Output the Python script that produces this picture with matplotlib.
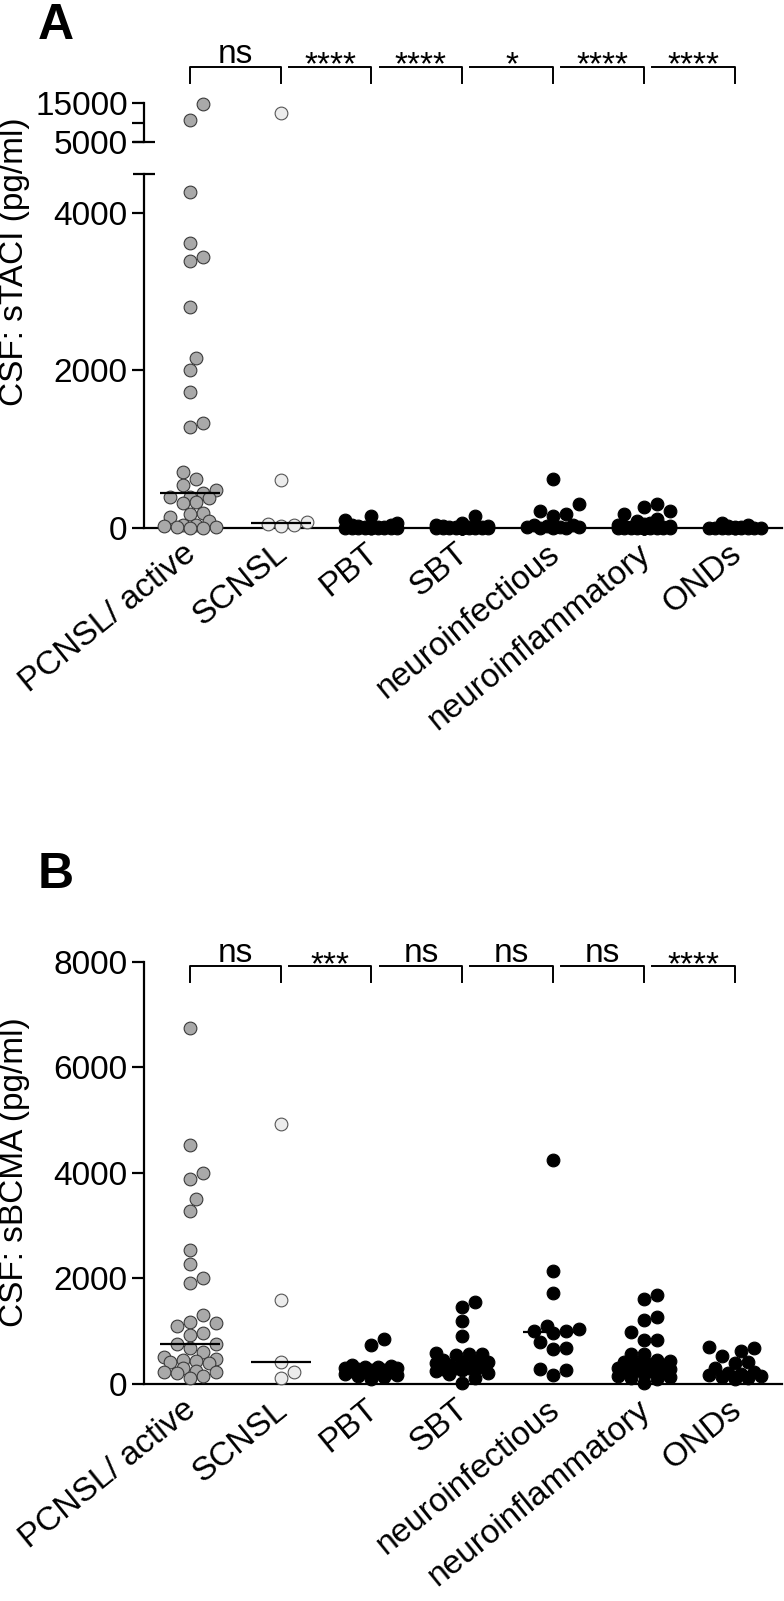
import numpy as np
import matplotlib
matplotlib.use('Agg')
import matplotlib.pyplot as plt
from matplotlib import transforms

plt.rcParams['font.family'] = ['Liberation Sans', 'DejaVu Sans']

grupos = ['PCNSL/ active', 'SCNSL', 'PBT', 'SBT', 'neuroinfectious',
          'neuroinflammatory', 'ONDs']

# CSF sTACI (pg/ml)
taci_pcnsl = [14740, 10720, 4270, 3618, 3440, 3394, 2805, 2153, 2000, 1721,
              1327, 1276, 704, 615, 543, 479, 445, 394, 386, 373, 330, 310,
              190, 174, 140, 85, 40, 30, 20, 10, 5, 0, 0]
taci_scnsl = [12590, 606, 69, 45, 30, 20]
taci_pbt = [150, 100, 65, 40, 30, 20, 12, 10, 6, 5, 0, 0, 0, 0, 0, 0, 0, 0, 0, 0]
taci_sbt = [150, 65, 40, 25, 20, 15, 10, 8, 5, 5, 3, 0, 0, 0, 0, 0, 0, 0, 0, 0,
            0, 0, 0, 0, 0]
taci_infec = [615, 297, 210, 170, 150, 40, 30, 20, 15, 10, 5, 0, 0, 0]
taci_inflam = [305, 260, 210, 170, 110, 90, 60, 45, 30, 25, 20, 15, 10, 8, 5,
               5, 3, 0, 0, 0, 0, 0, 0, 0, 0, 0, 0, 0, 0, 0]
taci_onds = [60, 40, 20, 10, 5, 0, 0, 0, 0, 0, 0, 0, 0, 0, 0]

# CSF sBCMA (pg/ml)
bcma_pcnsl = [6741, 4522, 4005, 3885, 3506, 3279, 2541, 2265, 2000, 1911,
              1300, 1170, 1150, 1095, 960, 920, 765, 760, 680, 600, 520, 470,
              450, 430, 420, 400, 300, 250, 230, 220, 200, 150, 118]
bcma_scnsl = [4919, 1595, 410, 221, 108]
bcma_pbt = [851, 743, 360, 345, 330, 318, 305, 296, 284, 270, 262, 250, 236,
            224, 210, 190, 172, 150, 128, 96]
bcma_sbt = [1551, 1457, 1185, 901, 585, 570, 560, 545, 455, 430, 418, 410,
            405, 352, 320, 305, 300, 290, 280, 262, 240, 210, 180, 120, 25]
bcma_infec = [4238, 2144, 1729, 1097, 1035, 1010, 1003, 959, 800, 675, 660,
              284, 270, 174]
bcma_inflam = [1689, 1607, 1260, 1216, 984, 825, 825, 575, 565, 452, 430, 412,
               395, 372, 362, 358, 341, 322, 300, 284, 262, 241, 220, 205, 182,
               160, 140, 118, 90, 20]
bcma_onds = [700, 685, 630, 535, 420, 405, 300, 222, 210, 190, 175, 160, 140,
             118, 95]

taci = [taci_pcnsl, taci_scnsl, taci_pbt, taci_sbt, taci_infec, taci_inflam, taci_onds]
bcma = [bcma_pcnsl, bcma_scnsl, bcma_pbt, bcma_sbt, bcma_infec, bcma_inflam, bcma_onds]

taci_sig = ['ns', '****', '****', '*', '****', '****']
bcma_sig = ['ns', '***', 'ns', 'ns', 'ns', '****']

relleno = ['#a9a9a9', '#ececec', 'black', 'black', 'black', 'black', 'black']
borde = ['#3a3a3a', '#555555', 'black', 'black', 'black', 'black', 'black']

W, H = 784, 1601
FS = 24
fig = plt.figure(figsize=(W / 100, H / 100), dpi=100)


def caja(izq, arriba, der, abajo):
    return [izq / W, 1 - abajo / H, (der - izq) / W, (abajo - arriba) / H]


def estilo(ax):
    for s in ['top', 'right']:
        ax.spines[s].set_visible(False)
    ax.spines['left'].set_linewidth(1.6)
    ax.spines['bottom'].set_linewidth(1.6)
    ax.tick_params(axis='y', which='major', length=9, width=1.6, labelsize=FS, pad=3)
    ax.tick_params(axis='x', length=0, labelbottom=False)
    ax.set_xlim(-0.5, 6.52)


def enjambre(ax, valores, xc, diam=13.0, ancho=28.0, sep=0.95):
    if len(valores) == 0:
        return np.array([])
    pts = ax.transData.transform([(xc, v) for v in valores])
    ys = pts[:, 1]
    sx = ax.transData.transform([(1, 0)])[0, 0] - ax.transData.transform([(0, 0)])[0, 0]
    paso = diam / 2
    cands = [0.0]
    k = 1
    while k * paso <= ancho:
        cands += [k * paso, -k * paso]
        k += 1
    colocados = []
    dx = np.zeros(len(valores))
    for i in np.argsort(ys):
        mejor, mejor_d = 0.0, -1.0
        for c in cands:
            if colocados:
                d = min(np.hypot(c - px, ys[i] - py) for px, py in colocados)
            else:
                d = np.inf
            if d >= diam * sep:
                mejor = c
                break
            if d > mejor_d:
                mejor_d, mejor = d, c
        colocados.append((mejor, ys[i]))
        dx[i] = mejor
    return xc + dx / sx


def puntos(ax, valores, i, sep=0.95):
    xs = enjambre(ax, valores, i, sep=sep)
    ax.scatter(xs, valores, s=84, c=relleno[i], edgecolors=borde[i],
               linewidths=0.8, zorder=3, clip_on=False)


def mediana(ax, valores, i):
    m = np.median(valores)
    ax.plot([i - 0.33, i + 0.33], [m, m], color='black', lw=1.6, zorder=4,
            solid_capstyle='butt')


def corchetes(ax, sig, y_px, largo=16):
    tr = transforms.blended_transform_factory(ax.transData, fig.transFigure)
    yt = 1 - y_px / H
    yb = 1 - (y_px + largo) / H
    for k, s in enumerate(sig):
        x0 = k if k == 0 else k + 0.09
        x1 = k + 1
        xs = [x0, x0, x1, x1] if k == 0 else [x0, x1, x1]
        ys = [yb, yt, yt, yb] if k == 0 else [yt, yt, yb]
        ax.plot(xs, ys, color='black', lw=1.4, transform=tr, clip_on=False)
        xm = (x0 + x1) / 2
        if s == 'ns':
            ax.text(xm, 1 - (y_px - 4) / H, s, ha='center', va='baseline',
                    fontsize=FS, transform=tr)
        else:
            ax.text(xm, 1 - (y_px + 8) / H, s, ha='center', va='baseline',
                    fontsize=FS, transform=tr)


def etiquetas(ax):
    tr = transforms.blended_transform_factory(ax.transData, ax.transAxes)
    tr = tr + transforms.ScaledTranslation(-7 / 100, -10 / 100, fig.dpi_scale_trans)
    for i, g in enumerate(grupos):
        ax.text(i, 0, g, rotation=39, rotation_mode='anchor', ha='right',
                va='top', fontsize=FS, transform=tr)


# ---------- Panel A ----------
limite = 4500
axA = fig.add_axes(caja(144.3, 173.7, 782, 527.7))
axA2 = fig.add_axes(caja(144.3, 103.3, 782, 142.3))
estilo(axA)
estilo(axA2)
axA.set_ylim(0, 4500)
axA.set_yticks([0, 2000, 4000])
axA.set_yticks([4500], minor=True)
axA.tick_params(axis='y', which='minor', direction='inout', length=16, width=1.6)
axA2.set_ylim(5000, 15000)
axA2.spines['bottom'].set_visible(False)
axA2.set_yticks([5000, 10000, 15000])
axA2.set_yticklabels(['5000', '', '15000'])
axA2.set_yticks([5000], minor=True)
axA2.yaxis.remove_overlapping_locs = False
axA2.tick_params(axis='y', which='minor', direction='inout', length=16, width=1.6)
axA2.patch.set_visible(False)

for i, vals in enumerate(taci):
    bajos = [v for v in vals if v <= limite]
    altos = [v for v in vals if v > limite]
    puntos(axA, bajos, i)
    if altos:
        puntos(axA2, altos, i, sep=1.5)
    mediana(axA, vals, i)

corchetes(axA, taci_sig, 66.7)
etiquetas(axA)
fig.text(15 / W, 1 - 262 / H, 'CSF: sTACI (pg/ml)', rotation=90, ha='center',
         va='center', fontsize=FS)
fig.text(38 / W, 1 - 39 / H, 'A', fontsize=36, fontweight='bold', va='baseline')

# ---------- Panel B ----------
axB = fig.add_axes(caja(144.3, 961.7, 782, 1384))
estilo(axB)
axB.set_ylim(0, 8000)
axB.set_yticks([0, 2000, 4000, 6000, 8000])
for i, vals in enumerate(bcma):
    puntos(axB, vals, i)
    mediana(axB, vals, i)

corchetes(axB, bcma_sig, 966)
etiquetas(axB)
fig.text(15 / W, 1 - 1172 / H, 'CSF: sBCMA (pg/ml)', rotation=90, ha='center',
         va='center', fontsize=FS)
fig.text(38 / W, 1 - 888 / H, 'B', fontsize=36, fontweight='bold', va='baseline')

fig.savefig('out.png', dpi=100)
